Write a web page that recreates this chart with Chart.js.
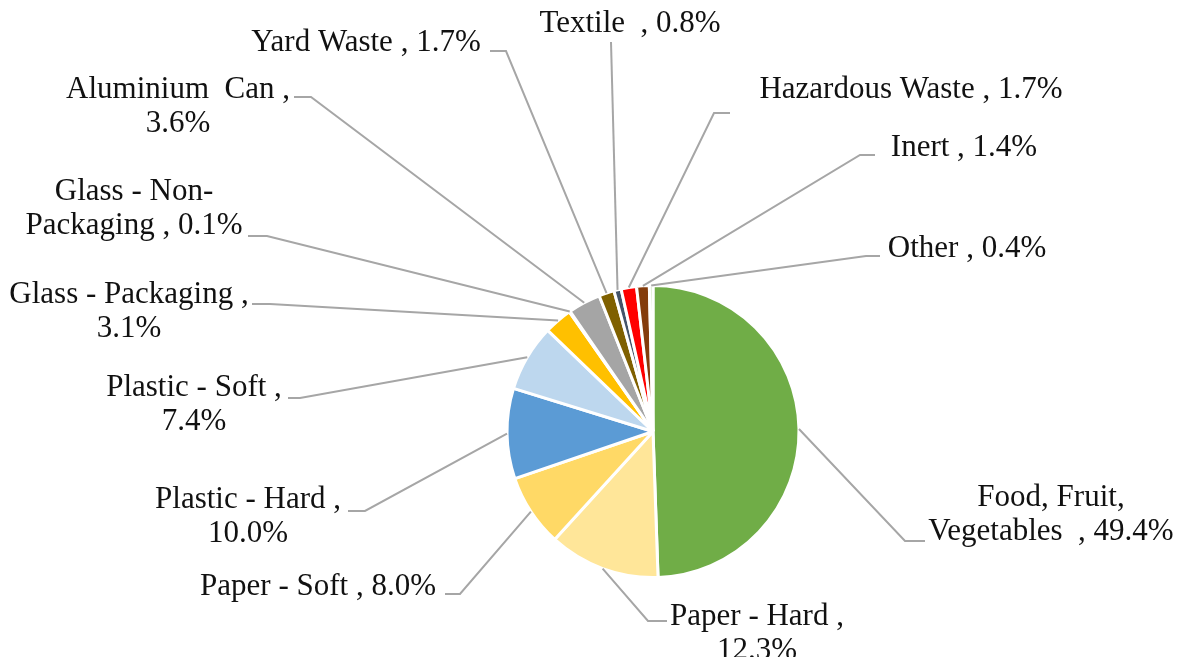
<!DOCTYPE html>
<html>
<head>
<meta charset="utf-8">
<script src="https://cdn.jsdelivr.net/npm/chart.js@4.4.0/dist/chart.umd.min.js"></script>
<style>
  html, body { margin: 0; padding: 0; background: #ffffff; }
  #wrap { width: 1178px; height: 657px; position: relative; }
</style>
</head>
<body>
<div id="wrap"><canvas id="pieCanvas" width="1178" height="657"></canvas></div>
<script>
// categories and shares (%), clockwise from 12 o'clock
var categories = [
  'Food, Fruit, Vegetables', 'Paper - Hard', 'Paper - Soft', 'Plastic - Hard',
  'Plastic - Soft', 'Glass - Packaging', 'Glass - Non-Packaging', 'Aluminium Can',
  'Yard Waste', 'Textile', 'Hazardous Waste', 'Inert', 'Other'
];
var shares = [49.4, 12.3, 8.0, 10.0, 7.4, 3.1, 0.1, 3.6, 1.7, 0.8, 1.7, 1.4, 0.4];

// label text as it appears (line breaks like the original)
var labelLines = [
  ['Food, Fruit,', 'Vegetables  , 49.4%'],
  ['Paper - Hard ,', '12.3%'],
  ['Paper - Soft , 8.0%'],
  ['Plastic - Hard ,', '10.0%'],
  ['Plastic - Soft ,', '7.4%'],
  ['Glass - Packaging ,', '3.1%'],
  ['Glass - Non-', 'Packaging , 0.1%'],
  ['Aluminium  Can ,', '3.6%'],
  ['Yard Waste , 1.7%'],
  ['Textile  , 0.8%'],
  ['Hazardous Waste , 1.7%'],
  ['Inert , 1.4%'],
  ['Other , 0.4%']
];

var colors = [
  '#70AD47', '#FFE699', '#FFD966', '#5B9BD5', '#BDD7EE', '#FFC000', '#264478',
  '#A5A5A5', '#7F6000', '#44546A', '#FF0000', '#843C0C', '#C5E0B4'
];

// label placement: text centre x, first line centre y, leader elbow and end of the short tick
var labelLayout = [
  { tx: 1051, ty: 498, ex: 905, ey: 541, hx: 925 },
  { tx: 757,  ty: 617, ex: 648, ey: 621, hx: 667 },
  { tx: 318,  ty: 587, ex: 460, ey: 594, hx: 445 },
  { tx: 248,  ty: 500, ex: 365, ey: 511, hx: 348 },
  { tx: 194,  ty: 388, ex: 300, ey: 398, hx: 288 },
  { tx: 129,  ty: 295, ex: 270, ey: 304, hx: 252 },
  { tx: 134,  ty: 192, ex: 267, ey: 236, hx: 248 },
  { tx: 178,  ty: 90,  ex: 311, ey: 97,  hx: 294 },
  { tx: 366,  ty: 43,  ex: 506, ey: 51,  hx: 490 },
  { tx: 630,  ty: 24,  ex: 611, ey: 42,  hx: 611 },
  { tx: 911,  ty: 90,  ex: 714, ey: 113, hx: 730 },
  { tx: 964,  ty: 148, ex: 860, ey: 155, hx: 875 },
  { tx: 967,  ty: 249, ex: 866, ey: 256, hx: 880 }
];

var lineHeight = 34;

var leaderLabels = {
  id: 'leaderLabels',
  afterDatasetsDraw: function(chart) {
    var ctx = chart.ctx;
    var arcs = chart.getDatasetMeta(0).data;
    ctx.save();
    arcs.forEach(function(arc, i) {
      var p = arc.getProps(['x', 'y', 'startAngle', 'endAngle', 'outerRadius'], true);
      var mid = (p.startAngle + p.endAngle) / 2;
      var sx = p.x + Math.cos(mid) * p.outerRadius;
      var sy = p.y + Math.sin(mid) * p.outerRadius;
      var L = labelLayout[i];
      ctx.strokeStyle = '#A6A6A6';
      ctx.lineWidth = 2;
      ctx.beginPath();
      ctx.moveTo(sx, sy);
      ctx.lineTo(L.ex, L.ey);
      ctx.lineTo(L.hx, L.ey);
      ctx.stroke();

      ctx.fillStyle = '#111111';
      ctx.font = '31px "Liberation Serif", "Times New Roman", serif';
      ctx.textAlign = 'center';
      ctx.textBaseline = 'middle';
      labelLines[i].forEach(function(t, k) {
        ctx.fillText(t, L.tx, L.ty + k * lineHeight);
      });
    });
    ctx.restore();
  }
};

new Chart(document.getElementById('pieCanvas').getContext('2d'), {
  type: 'pie',
  data: {
    labels: categories,
    datasets: [{
      data: shares,
      backgroundColor: colors,
      borderColor: '#ffffff',
      borderWidth: 3
    }]
  },
  options: {
    responsive: false,
    animation: false,
    layout: { padding: { top: 284, bottom: 78, left: 300, right: 172 } },
    plugins: {
      legend: { display: false },
      tooltip: { enabled: false }
    }
  },
  plugins: [leaderLabels]
});
</script>
</body>
</html>
